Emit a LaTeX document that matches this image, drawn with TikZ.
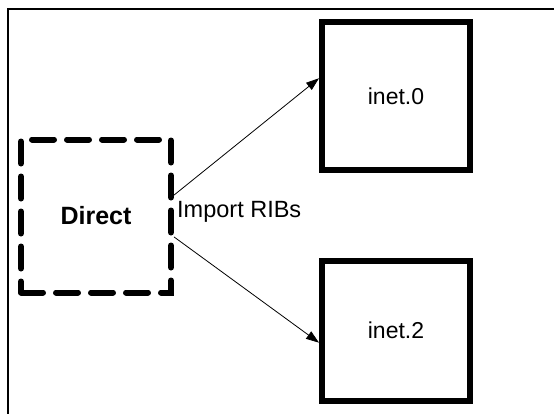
\documentclass[tikz,border=0pt]{standalone}
\usepackage{fontspec}
\setmainfont{Liberation Sans}
\usetikzlibrary{arrows.meta}
\begin{document}
\begin{tikzpicture}[x=1pt,y=-1pt,
  frame/.style={line width=2pt},
  ribbox/.style={draw, line width=6pt, inner sep=0pt, minimum width=148pt,
    font=\fontsize{23}{26}\selectfont},
  srcbox/.style={draw, line width=6pt, line cap=round, dash pattern=on 22pt off 13pt,
    inner sep=0pt, minimum width=150pt, minimum height=153pt,
    font=\bfseries\fontsize{25}{28}\selectfont},
  link/.style={line width=0.8pt, -{Triangle[length=13pt,width=9pt]}},
  lbl/.style={font=\fontsize{23.5}{26}\selectfont, inner sep=0pt, anchor=west}
]
\useasboundingbox (0,0) rectangle (554,413);
% frame around the figure (only its top and left sides fall inside the page)
\draw[frame] (8,420) -- (8,9) -- (560,9);

\node[srcbox] (direct) at (96,216) {Direct};
\node[ribbox, minimum height=148pt] (inet0) at (396,96) {inet.0};
\node[ribbox, minimum height=140pt] (inet2) at (396,330.5) {inet.2};

\draw[link] (direct.15) -- (inet0.167);
\draw[link] (direct.-15) -- (inet2.189);

\node[lbl] (imp) at (177,212) {Import RIBs};
\end{tikzpicture}
\end{document}
